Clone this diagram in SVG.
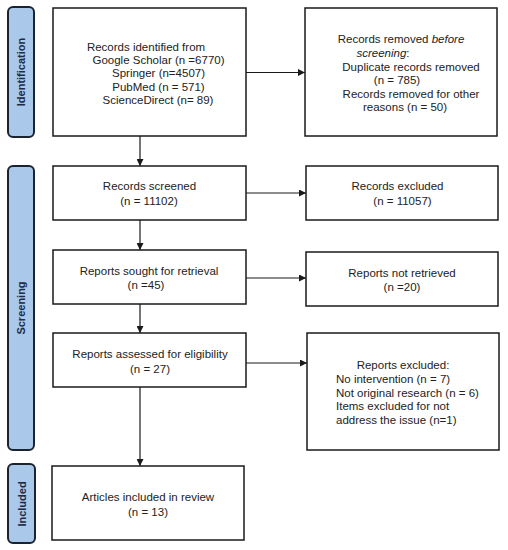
<svg xmlns="http://www.w3.org/2000/svg" width="508" height="550" viewBox="0 0 508 550">
<defs>
<style>
.box{fill:#fff;stroke:#1a1a1a;stroke-width:1.5}
.bar{fill:#a9c8ea;stroke:#1c2330;stroke-width:2}
.t{font-family:"Liberation Sans",Arial,sans-serif;font-size:11.5px;fill:#222}
.c{text-anchor:middle}
.side{font-family:"Liberation Sans",Arial,sans-serif;font-size:11px;font-weight:bold;fill:#1f2a44;text-anchor:middle}
.con{stroke:#1a1a1a;stroke-width:1.2;fill:none;marker-end:url(#ah)}
</style>
<marker id="ah" viewBox="0 0 10 10" refX="10" refY="5" markerWidth="7" markerHeight="7" markerUnits="userSpaceOnUse" orient="auto">
<path d="M0,0 L10,5 L0,10 z" fill="#1a1a1a"/>
</marker>
</defs>
<rect width="508" height="550" fill="#fff"/>
<g id="bar-identification">
<rect class="bar" x="8" y="7" width="26" height="130" rx="5"/>
<text class="side" transform="translate(25,72) rotate(-90)">Identification</text>
</g>
<g id="bar-screening">
<rect class="bar" x="8" y="166" width="26" height="284" rx="5"/>
<text class="side" transform="translate(25,308) rotate(-90)">Screening</text>
</g>
<g id="bar-included">
<rect class="bar" x="8" y="464" width="27" height="79" rx="5"/>
<text class="side" transform="translate(25.5,504) rotate(-90)">Included</text>
</g>
<g id="identified">
<rect class="box" x="53" y="8" width="193" height="128"/>
<text class="t c" x="146" y="51">Records identified from</text>
<text class="t c" x="158.5" y="64">Google Scholar (n =6770)</text>
<text class="t c" x="158.5" y="77">Springer (n=4507)</text>
<text class="t c" x="158.5" y="90.5">PubMed (n = 571)</text>
<text class="t c" x="158" y="104">ScienceDirect (n= 89)</text>
</g>
<g id="removed">
<rect class="box" x="305" y="8" width="192" height="128"/>
<text class="t c" x="401" y="43">Records removed <tspan font-style="italic">before</tspan></text>
<text class="t c" x="383" y="57"><tspan font-style="italic">screening</tspan>:</text>
<text class="t c" x="411" y="71">Duplicate records removed</text>
<text class="t c" x="397" y="84">(n = 785)</text>
<text class="t c" x="411" y="97.5">Records removed for other</text>
<text class="t c" x="405" y="111">reasons (n = 50)</text>
</g>
<g id="screened">
<rect class="box" x="53" y="166" width="193" height="54"/>
<text class="t c" x="149.5" y="190">Records screened</text>
<text class="t c" x="149" y="204.5">(n = 11102)</text>
</g>
<g id="excluded">
<rect class="box" x="306" y="166" width="192" height="54"/>
<text class="t c" x="397.5" y="190">Records excluded</text>
<text class="t c" x="402.5" y="204.5">(n = 11057)</text>
</g>
<g id="sought">
<rect class="box" x="53" y="250" width="193" height="54"/>
<text class="t c" x="149" y="275">Reports sought for retrieval</text>
<text class="t c" x="146" y="289">(n =45)</text>
</g>
<g id="not-retrieved">
<rect class="box" x="306" y="252" width="192" height="54"/>
<text class="t c" x="402" y="277">Reports not retrieved</text>
<text class="t c" x="402" y="291">(n =20)</text>
</g>
<g id="assessed">
<rect class="box" x="53" y="333" width="193" height="54"/>
<text class="t c" x="150" y="358">Reports assessed for eligibility</text>
<text class="t c" x="150" y="373">(n = 27)</text>
</g>
<g id="reports-excluded">
<rect class="box" x="307" y="333" width="192" height="117"/>
<text class="t c" x="403" y="369">Reports excluded:</text>
<text class="t" x="336" y="383">No intervention (n = 7)</text>
<text class="t" x="336" y="396.5">Not original research (n = 6)</text>
<text class="t" x="336" y="410">Items excluded for not</text>
<text class="t" x="336" y="424">address the issue (n=1)</text>
</g>
<g id="included">
<rect class="box" x="52" y="466" width="192" height="74"/>
<text class="t c" x="148" y="501">Articles included in review</text>
<text class="t c" x="148" y="516">(n = 13)</text>
</g>
<g id="connectors">
<line class="con" x1="246" y1="72.5" x2="305" y2="72.5"/>
<line class="con" x1="140" y1="136" x2="140" y2="166"/>
<line class="con" x1="246" y1="193" x2="306" y2="193"/>
<line class="con" x1="140" y1="220" x2="140" y2="250"/>
<line class="con" x1="246" y1="278" x2="306" y2="278"/>
<line class="con" x1="140" y1="304" x2="140" y2="333"/>
<line class="con" x1="246" y1="363" x2="307" y2="363"/>
<line class="con" x1="140" y1="387" x2="140" y2="466"/>
</g>
</svg>
